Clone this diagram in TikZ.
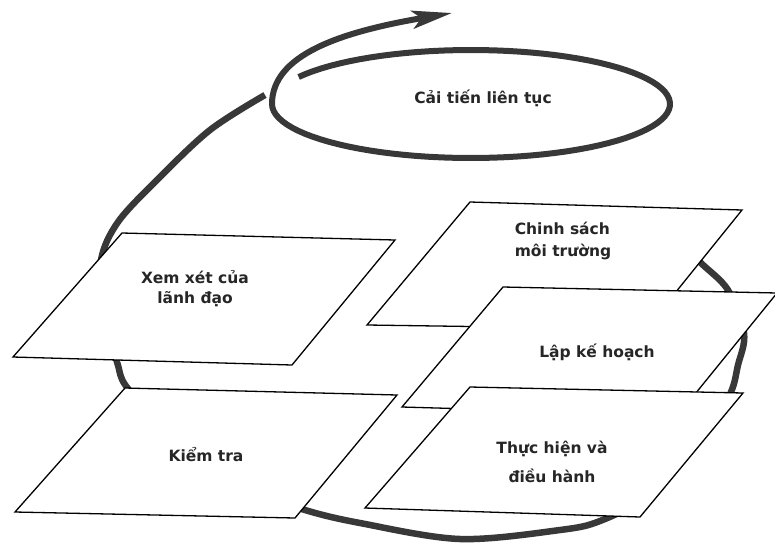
\documentclass[tikz,border=0pt]{standalone}
\usepackage{fontspec}
\setmainfont{DejaVu Sans}
\usetikzlibrary{arrows.meta}
\begin{document}
\begin{tikzpicture}[x=1pt,y=-1pt,
  box/.style={draw=black, fill=white, line width=1.3pt, line join=miter},
  lbl/.style={font=\bfseries\fontsize{15.5}{20}\selectfont, text=black!85, align=center},
  cyc/.style={draw=black!78, line width=6.5pt},
]
\useasboundingbox (0,0) rectangle (775,544);
\fill[white] (0,0) rectangle (775,544);

% big cycle arrow (mostly hidden behind the boxes)
\draw[cyc] plot[smooth, tension=0.55] coordinates {
  (675,235) (700,262) (728,290) (744,333) (738,365) (728,398)
  (690,450) (645,497) (600,521) (560,530) (460,539) (360,523) (305,510)
  (250,490) (160,420) (126,386) (117,362) (102,310) (101,260)
  (118,222) (157,180) (210,130) (265,95)};

% continual improvement spiral
\coordinate (tip) at (452,13);
\draw[cyc, line width=6pt, -{Stealth[length=40pt, width=18pt, inset=9pt]}]
  plot[domain=150:-180, samples=90, variable=\t] ({471+199*cos(\t)}, {104-54*sin(\t)})
  .. controls (272,55) and (340,32) .. (tip);
\node[lbl] (cai) at (483,98) {Cải tiến liên tục};

% boxes
\coordinate (x1) at (122,233); \coordinate (x2) at (395,240);
\coordinate (x3) at (292,365); \coordinate (x4) at (13,357);
\draw[box] (x1) -- (x2) -- (x3) -- (x4) -- cycle;
\node[lbl] (xem) at (195,289) {Xem xét của\\lãnh đạo};

\coordinate (k1) at (125,388); \coordinate (k2) at (397,395);
\coordinate (k3) at (295,518); \coordinate (k4) at (15,512);
\draw[box] (k1) -- (k2) -- (k3) -- (k4) -- cycle;
\node[lbl] (kiem) at (206,455) {Kiểm tra};

\coordinate (c1) at (470,202); \coordinate (c2) at (742,210);
\coordinate (c3) at (646,329); \coordinate (c4) at (367,325);
\draw[box] (c1) -- (c2) -- (c3) -- (c4) -- cycle;
\node[lbl, align=left, font=\bfseries\fontsize{15.5}{22}\selectfont] (chinh) at (563,241) {Chinh sách\\môi trường};

\coordinate (l1) at (503,287); \coordinate (l2) at (777,293);
\coordinate (l3) at (678,415); \coordinate (l4) at (402,407);
\draw[box] (l1) -- (l2) -- (l3) -- (l4) -- cycle;
\node[lbl] (lap) at (597,352) {Lập kế hoạch};

\coordinate (t1) at (470,387); \coordinate (t2) at (743,393);
\coordinate (t3) at (640,517); \coordinate (t4) at (365,508);
\draw[box] (t1) -- (t2) -- (t3) -- (t4) -- cycle;
\node[lbl, font=\bfseries\fontsize{15.5}{29}\selectfont] (thuc) at (552,462) {Thực hiện và\\điều hành};
\end{tikzpicture}
\end{document}
